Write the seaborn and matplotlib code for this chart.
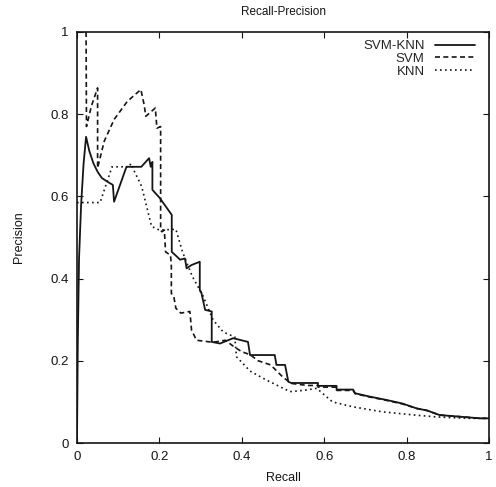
import matplotlib
matplotlib.use("Agg")
import matplotlib.pyplot as plt
import seaborn as sns
import pandas as pd

# SVM-KNN (solid)
svmknn_recall = [0.0, 0.002, 0.005, 0.01, 0.016, 0.022, 0.03, 0.04, 0.05, 0.06, 0.075, 0.087,
                 0.09, 0.12, 0.156, 0.175, 0.179, 0.183, 0.183, 0.201, 0.23, 0.23, 0.242, 0.25,
                 0.262, 0.266, 0.278, 0.298, 0.298, 0.302, 0.311, 0.327, 0.327, 0.347, 0.379,
                 0.415, 0.42, 0.48, 0.484, 0.505, 0.513, 0.52, 0.585, 0.585, 0.63, 0.63, 0.67,
                 0.675, 0.71, 0.75, 0.79, 0.825, 0.85, 0.88, 0.93, 0.978, 1.0]
svmknn_prec = [0.0, 0.25, 0.45, 0.58, 0.68, 0.745, 0.71, 0.68, 0.66, 0.645, 0.635, 0.628,
               0.587, 0.672, 0.672, 0.693, 0.672, 0.684, 0.616, 0.596, 0.555, 0.465, 0.454, 0.446,
               0.449, 0.425, 0.433, 0.441, 0.372, 0.365, 0.324, 0.32, 0.246, 0.242, 0.255,
               0.246, 0.214, 0.214, 0.19, 0.19, 0.149, 0.146, 0.146, 0.139, 0.139, 0.130, 0.130,
               0.121, 0.113, 0.105, 0.096, 0.084, 0.079, 0.068, 0.064, 0.060, 0.06]

# SVM (dashed)
svm_recall = [0.022, 0.023, 0.035, 0.05, 0.05, 0.066, 0.09, 0.122, 0.155, 0.163, 0.167, 0.19,
              0.194, 0.203, 0.203, 0.206, 0.212, 0.215, 0.227, 0.229, 0.229, 0.235, 0.24, 0.252,
              0.274, 0.278, 0.29, 0.33, 0.36, 0.38, 0.40, 0.42, 0.44, 0.47, 0.50, 0.52, 0.56,
              0.585, 0.585, 0.63, 0.63, 0.67, 0.675, 0.71, 0.75, 0.79, 0.825, 0.85, 0.88, 0.93,
              0.978, 1.0]
svm_prec = [1.0, 0.77, 0.82, 0.864, 0.669, 0.734, 0.787, 0.831, 0.86, 0.823, 0.795, 0.815,
            0.766, 0.77, 0.518, 0.514, 0.518, 0.465, 0.457, 0.43, 0.364, 0.356, 0.328, 0.316,
            0.32, 0.275, 0.25, 0.245, 0.25, 0.235, 0.222, 0.215, 0.2, 0.19, 0.16, 0.145, 0.14,
            0.14, 0.136, 0.136, 0.128, 0.128, 0.12, 0.112, 0.104, 0.095, 0.084, 0.079, 0.068,
            0.064, 0.060, 0.06]

# KNN (dotted)
knn_recall = [0.0, 0.056, 0.085, 0.128, 0.13, 0.157, 0.181, 0.2, 0.24, 0.256, 0.28, 0.305,
              0.33, 0.355, 0.383, 0.387, 0.42, 0.46, 0.517, 0.55, 0.582, 0.62, 0.67, 0.74,
              0.82, 0.865, 0.9, 0.95, 1.0]
knn_prec = [0.585, 0.585, 0.672, 0.672, 0.68, 0.624, 0.527, 0.518, 0.52, 0.465, 0.405, 0.36,
            0.30, 0.27, 0.258, 0.21, 0.175, 0.153, 0.125, 0.128, 0.133, 0.10, 0.088, 0.076,
            0.068, 0.064, 0.062, 0.06, 0.06]

x_ticks = [0, 0.2, 0.4, 0.6, 0.8, 1]
tick_labels = ["0", "0.2", "0.4", "0.6", "0.8", "1"]

sns.set_theme(style="ticks")
plt.rcParams['font.family'] = ['Liberation Sans', 'DejaVu Sans']

fig = plt.figure(figsize=(4.96, 4.87), dpi=100)
ax = fig.add_axes([77/496, 1-443/487, 412/496, 411/487])

ink = "#151515"
df1 = pd.DataFrame({"Recall": svmknn_recall, "Precision": svmknn_prec})
df2 = pd.DataFrame({"Recall": svm_recall, "Precision": svm_prec})
df3 = pd.DataFrame({"Recall": knn_recall, "Precision": knn_prec})

sns.lineplot(data=df1, x="Recall", y="Precision", sort=False, estimator=None, ax=ax,
             color=ink, lw=1.3, linestyle="-", label="SVM-KNN")
sns.lineplot(data=df2, x="Recall", y="Precision", sort=False, estimator=None, ax=ax,
             color=ink, lw=1.2, linestyle=(0, (3, 2)), label="SVM")
sns.lineplot(data=df3, x="Recall", y="Precision", sort=False, estimator=None, ax=ax,
             color=ink, lw=1.2, linestyle=(0, (1, 2)), label="KNN")

ax.set_xlim(0, 1)
ax.set_ylim(0, 1)
ax.set_xticks(x_ticks)
ax.set_xticklabels(tick_labels)
ax.set_yticks(x_ticks)
ax.set_yticklabels(tick_labels)
ax.tick_params(direction="in", length=4, width=0.8, top=True, right=True,
               labelsize=9.5, colors=ink, pad=6)
for s in ax.spines.values():
    s.set_color(ink)
    s.set_linewidth(1.2)
    s.set_visible(True)

ax.set_xlabel("Recall", fontsize=9, color=ink, labelpad=6)
ax.set_ylabel("Precision", fontsize=9, color=ink, labelpad=18)
ax.set_title("Recall-Precision", fontsize=8.5, color=ink, pad=12)

leg = ax.legend(loc="upper right", frameon=False, markerfirst=False, fontsize=9.5,
                handlelength=3.0, handletextpad=0.8, labelspacing=0.05,
                borderaxespad=0.2, bbox_to_anchor=(0.985, 1.0))
for t in leg.get_texts():
    t.set_ha("right")
leg._legend_box.align = "right"

fig.savefig("out.png", dpi=100)
